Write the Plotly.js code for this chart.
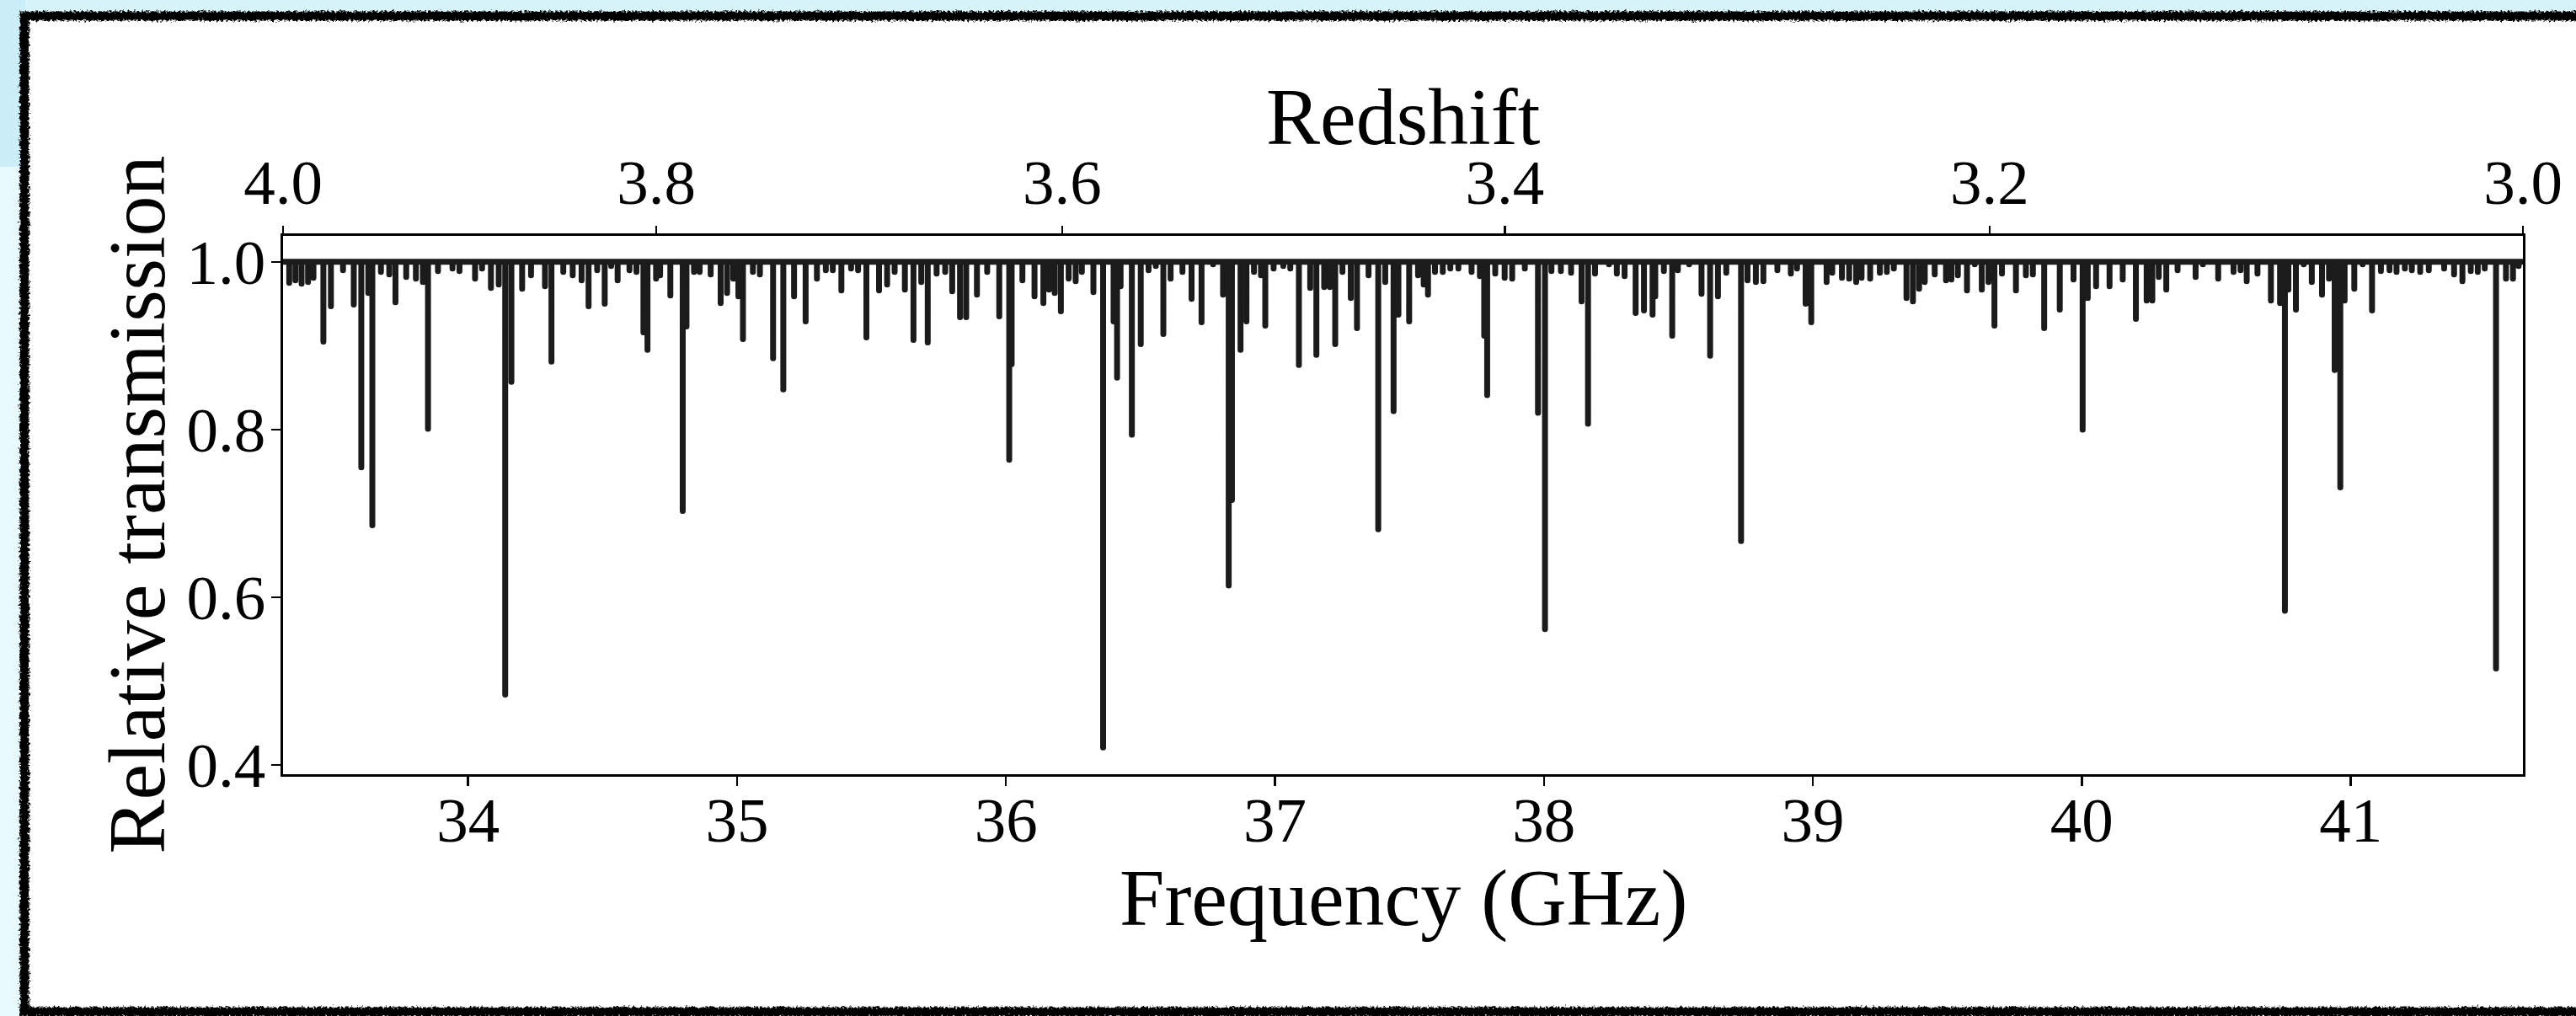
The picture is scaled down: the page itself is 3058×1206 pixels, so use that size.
<!DOCTYPE html>
<html>
<head>
<meta charset="utf-8">
<script src="https://cdn.plot.ly/plotly-3.0.1.min.js"></script>
<style>
  html, body { margin: 0; padding: 0; }
  body { width: 3058px; height: 1206px; position: relative; overflow: hidden; background: #e8fafd; }
  #topband { position: absolute; left: 0; top: 0; width: 3058px; height: 20px; background: #d6f4fa; }
  #leftblock { position: absolute; left: 0; top: 0; width: 30px; height: 198px; background: #cbeef8; }
  #paper { position: absolute; left: 29px; top: 19px; width: 3100px; height: 1182px; background: #ffffff; }
  #chart { position: absolute; left: 0; top: 0; width: 3058px; height: 1206px; }
  #frame { position: absolute; left: 0; top: 0; pointer-events: none; }
  #chart .js-line { stroke-linejoin: round !important; stroke-linecap: round !important; }
</style>
</head>
<body>
<div id="topband"></div>
<div id="leftblock"></div>
<div id="paper"></div>
<div id="chart"></div>
<svg id="frame" width="3058" height="1206">
  <defs>
    <filter id="rough" x="-5%" y="-5%" width="110%" height="110%">
      <feTurbulence type="fractalNoise" baseFrequency="0.35" numOctaves="3" seed="7" result="n"/>
      <feDisplacementMap in="SourceGraphic" in2="n" scale="7" xChannelSelector="R" yChannelSelector="G"/>
    </filter>
  </defs>
  <rect x="29" y="19" width="3100" height="1182" fill="none" stroke="#000" stroke-width="11" filter="url(#rough)"/>
</svg>
<script>
// Rest frequency (GHz) linking the frequency axis to the redshift axis
const restFreqGHz = 166.56;

// Absorption features: frequency (GHz) and minimum relative transmission
const absFreq = [
  33.335, 33.358, 33.381, 33.405, 33.425, 33.462, 33.490, 33.535, 33.575, 33.603,
  33.629, 33.644, 33.676, 33.707, 33.730, 33.770, 33.806, 33.832, 33.851, 33.888,
  33.942, 33.968, 34.026, 34.052, 34.085, 34.114, 34.138, 34.161, 34.201, 34.234,
  34.286, 34.310, 34.354, 34.389, 34.422, 34.448, 34.480, 34.508, 34.532, 34.556,
  34.600, 34.626, 34.652, 34.667, 34.699,
  34.714, 34.752, 34.798, 34.812, 34.840, 34.861, 34.902, 34.939, 34.963, 34.986,
  35.005, 35.022, 35.059, 35.085, 35.134, 35.172, 35.212, 35.255, 35.297, 35.330,
  35.356, 35.388, 35.424, 35.450, 35.481, 35.528, 35.558, 35.586, 35.624, 35.656,
  35.685, 35.709, 35.742, 35.774, 35.800, 35.829, 35.852, 35.892, 35.930, 35.975,
  36.012, 36.021, 36.061, 36.106,
  36.139, 36.160, 36.181, 36.204, 36.233, 36.259, 36.282, 36.325, 36.361, 36.400,
  36.413, 36.426, 36.468, 36.501, 36.530, 36.557, 36.585, 36.612, 36.656, 36.690,
  36.727, 36.770, 36.807, 36.828, 36.840, 36.872, 36.894, 36.922, 36.948, 36.964,
  36.995, 37.031, 37.057, 37.089, 37.131, 37.154, 37.183, 37.204, 37.224, 37.251,
  37.282, 37.305, 37.348, 37.384, 37.410, 37.441, 37.459, 37.499,
  37.532, 37.553, 37.569, 37.595, 37.624, 37.652, 37.682, 37.731, 37.762, 37.778,
  37.789, 37.819, 37.854, 37.882, 37.929, 37.978, 38.004, 38.028, 38.063, 38.101,
  38.140, 38.164, 38.190, 38.242, 38.271, 38.300, 38.341, 38.372, 38.404, 38.414,
  38.446, 38.477, 38.498, 38.540, 38.586, 38.618, 38.647, 38.678, 38.733, 38.757,
  38.788, 38.816, 38.868, 38.918,
  38.941, 38.973, 38.994, 39.051, 39.072, 39.108, 39.135, 39.161, 39.181, 39.213,
  39.249, 39.275, 39.301, 39.348, 39.372, 39.395, 39.416, 39.453, 39.495, 39.515,
  39.539, 39.573, 39.602, 39.628, 39.653, 39.675, 39.703, 39.755, 39.792, 39.818,
  39.860, 39.918, 39.969, 40.003, 40.022, 40.053, 40.103, 40.152, 40.201, 40.241,
  40.262, 40.286, 40.314,
  40.356, 40.423, 40.450, 40.507, 40.564, 40.590, 40.613, 40.653, 40.703, 40.737,
  40.755, 40.768, 40.796, 40.825, 40.855, 40.893, 40.919, 40.940, 40.961, 40.977,
  41.013, 41.044, 41.079, 41.112, 41.144, 41.170, 41.201, 41.227, 41.258, 41.290,
  41.347, 41.384, 41.415, 41.446, 41.472, 41.498, 41.540, 41.577, 41.603, 41.624
];
const absMin = [
  0.975, 0.978, 0.974, 0.976, 0.981, 0.905, 0.947, 0.990, 0.949, 0.755,
  0.963, 0.686, 0.988, 0.985, 0.952, 0.982, 0.980, 0.976, 0.801, 0.989,
  0.992, 0.989, 0.980, 0.992, 0.969, 0.973, 0.484, 0.857, 0.968, 0.984,
  0.971, 0.881, 0.988, 0.984, 0.978, 0.947, 0.990, 0.950, 0.995, 0.978,
  0.990, 0.988, 0.916, 0.895, 0.980,
  0.984, 0.960, 0.703, 0.923, 0.988, 0.988, 0.985, 0.951, 0.963, 0.980,
  0.959, 0.908, 0.988, 0.985, 0.885, 0.848, 0.959, 0.929, 0.980, 0.990,
  0.990, 0.966, 0.992, 0.990, 0.910, 0.966, 0.973, 0.988, 0.967, 0.907,
  0.976, 0.904, 0.986, 0.988, 0.965, 0.934, 0.934, 0.961, 0.988, 0.935,
  0.764, 0.878, 0.978, 0.959,
  0.951, 0.967, 0.963, 0.941, 0.980, 0.977, 0.988, 0.964, 0.421, 0.929,
  0.862, 0.971, 0.794, 0.902, 0.990, 0.995, 0.914, 0.980, 0.988, 0.956,
  0.928, 0.997, 0.961, 0.614, 0.716, 0.895, 0.929, 0.988, 0.984, 0.924,
  0.992, 0.995, 0.992, 0.877, 0.969, 0.889, 0.970, 0.970, 0.902, 0.988,
  0.957, 0.921, 0.984, 0.681, 0.976, 0.822, 0.937, 0.929,
  0.984, 0.973, 0.961, 0.988, 0.988, 0.992, 0.992, 0.988, 0.983, 0.912,
  0.841, 0.986, 0.981, 0.980, 0.992, 0.820, 0.562, 0.989, 0.989, 0.987,
  0.953, 0.807, 0.986, 0.997, 0.986, 0.983, 0.939, 0.942, 0.937, 0.959,
  0.989, 0.912, 0.990, 0.997, 0.962, 0.888, 0.959, 0.987, 0.667, 0.978,
  0.976, 0.977, 0.990, 0.986,
  0.992, 0.950, 0.928, 0.976, 0.987, 0.981, 0.980, 0.976, 0.981, 0.980,
  0.987, 0.988, 0.992, 0.957, 0.953, 0.968, 0.976, 0.985, 0.978, 0.979,
  0.984, 0.966, 0.997, 0.967, 0.976, 0.924, 0.986, 0.966, 0.984, 0.985,
  0.921, 0.943, 0.979, 0.800, 0.957, 0.971, 0.971, 0.979, 0.932, 0.954,
  0.954, 0.982, 0.967,
  0.990, 0.982, 0.997, 0.980, 0.988, 0.990, 0.977, 0.986, 0.954, 0.951,
  0.584, 0.967, 0.943, 0.997, 0.976, 0.961, 0.980, 0.871, 0.731, 0.954,
  0.968, 0.997, 0.942, 0.989, 0.990, 0.988, 0.992, 0.990, 0.988, 0.990,
  0.992, 0.985, 0.977, 0.989, 0.988, 0.992, 0.515, 0.980, 0.980, 0.995
];

// Axis tick values and labels
const freqTicks = [34, 35, 36, 37, 38, 39, 40, 41];
const transTicks = [0.4, 0.6, 0.8, 1.0];
const redshiftTicks = [4.0, 3.8, 3.6, 3.4, 3.2, 3.0];

// Continuum level of the spectrum
const continuum = 1.0;

const fMin = restFreqGHz / (1 + 4.0);
const fMax = restFreqGHz / (1 + 3.0);

// Build the spectrum path: continuum with each absorption dip
const specX = [fMin];
const specY = [continuum];
for (let i = 0; i < absFreq.length; i++) {
  specX.push(absFreq[i], absFreq[i], absFreq[i]);
  specY.push(continuum, absMin[i], continuum);
}
specX.push(fMax);
specY.push(continuum);

const FONT = 'Liberation Serif, Times New Roman, serif';
const tickFont = {family: FONT, size: 75, color: '#000'};
const titleFont = {family: FONT, size: 96, color: '#000'};

const traces = [
  {
    x: specX, y: specY, type: 'scatter', mode: 'lines',
    line: {color: '#1b1b1b', width: 7, simplify: false},
    hoverinfo: 'skip', showlegend: false, xaxis: 'x', yaxis: 'y'
  },
  {
    x: [fMin, fMax], y: [continuum, continuum], type: 'scatter', mode: 'lines',
    line: {color: 'rgba(0,0,0,0)', width: 0}, hoverinfo: 'skip', showlegend: false,
    xaxis: 'x2', yaxis: 'y'
  }
];

const layout = {
  width: 3058, height: 1206,
  margin: {l: 336, r: 63, t: 280, b: 287, pad: 0},
  paper_bgcolor: 'rgba(0,0,0,0)',
  plot_bgcolor: 'rgba(0,0,0,0)',
  showlegend: false,
  xaxis: {
    range: [fMin, fMax],
    tickvals: freqTicks, ticktext: freqTicks.map(String),
    ticks: 'outside', ticklen: 11, tickwidth: 2.5, tickcolor: '#000',
    ticklabelstandoff: -24,
    showline: true, linewidth: 2.7, linecolor: '#000', mirror: true,
    showgrid: false, zeroline: false,
    tickfont: tickFont
  },
  xaxis2: {
    overlaying: 'x', side: 'top', anchor: 'y',
    range: [fMin, fMax],
    tickvals: redshiftTicks.map(z => restFreqGHz / (1 + z)),
    ticktext: redshiftTicks.map(z => z.toFixed(1)),
    ticks: 'outside', ticklen: 11, tickwidth: 2.5, tickcolor: '#000',
    ticklabelstandoff: -4,
    showline: false, showgrid: false, zeroline: false,
    tickfont: tickFont
  },
  yaxis: {
    range: [0.389, 1.031],
    tickvals: transTicks, ticktext: transTicks.map(v => v.toFixed(1)),
    ticks: 'outside', ticklen: 11, tickwidth: 2.5, tickcolor: '#000',
    ticklabelstandoff: -8,
    showline: true, linewidth: 2.7, linecolor: '#000', mirror: true,
    showgrid: false, zeroline: false,
    tickfont: tickFont
  },
  annotations: [
    {text: 'Frequency (GHz)', xref: 'paper', yref: 'paper', x: 0.5, y: -0.2285,
     xanchor: 'center', yanchor: 'middle', showarrow: false, font: titleFont},
    {text: 'Redshift', xref: 'paper', yref: 'paper', x: 0.5, y: 1.222,
     xanchor: 'center', yanchor: 'middle', showarrow: false, font: titleFont},
    {text: 'Relative transmission', xref: 'paper', yref: 'paper', x: -0.0654, y: 0.5,
     xanchor: 'center', yanchor: 'middle', textangle: -90, showarrow: false, font: titleFont}
  ]
};

Plotly.newPlot('chart', traces, layout, {staticPlot: true, displayModeBar: false});
</script>
</body>
</html>
